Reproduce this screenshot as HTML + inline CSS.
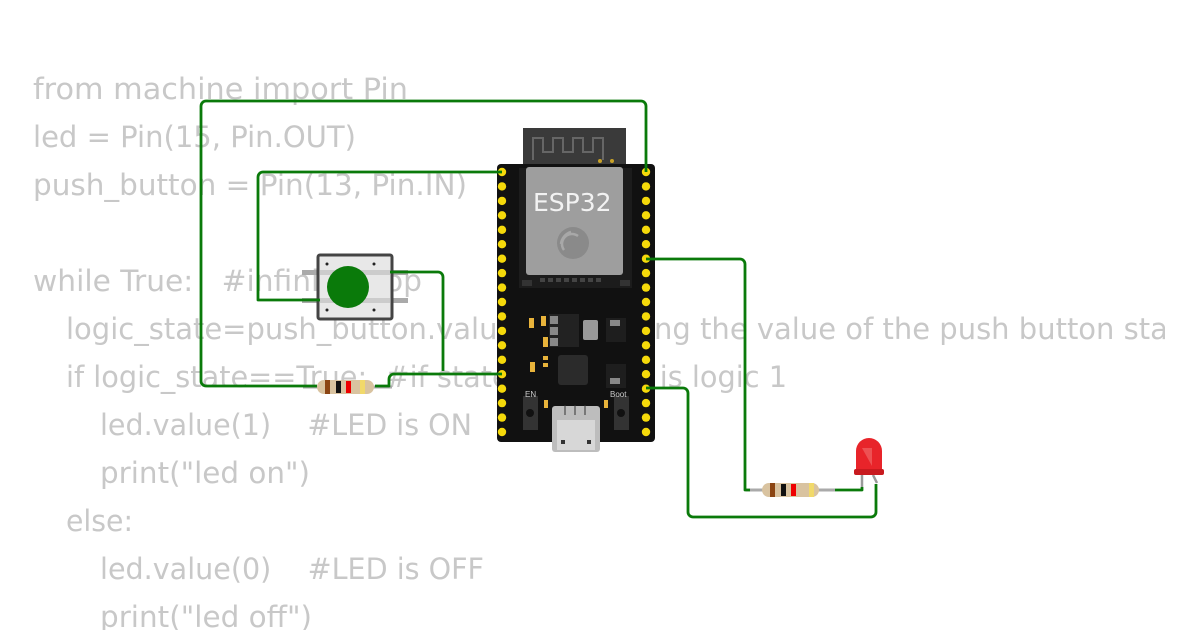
<!DOCTYPE html>
<html><head><meta charset="utf-8"><style>
html,body{margin:0;padding:0;background:#fff;width:1200px;height:630px;overflow:hidden}
svg{display:block}
.c{font-family:"DejaVu Sans","Liberation Sans",sans-serif;font-size:29px;fill:#c8c8c8}
</style></head><body>
<svg width="1200" height="630" viewBox="0 0 1200 630" xmlns="http://www.w3.org/2000/svg">
<defs><clipPath id="cl"><rect x="0" y="0" width="1165" height="630"/></clipPath></defs>
<g class="c" clip-path="url(#cl)">
<text x="33" y="99" textLength="375" lengthAdjust="spacingAndGlyphs">from machine import Pin</text>
<text x="33" y="147" textLength="323" lengthAdjust="spacingAndGlyphs">led = Pin(15, Pin.OUT)</text>
<text x="33" y="195" textLength="434" lengthAdjust="spacingAndGlyphs">push_button = Pin(13, Pin.IN)</text>
<text x="33" y="291" xml:space="preserve" textLength="389" lengthAdjust="spacingAndGlyphs">while True:   #infinite loop</text>
<text x="66" y="339" xml:space="preserve">logic_state=push_button.value()  #reading the value of the push button state</text>
<text x="66" y="387" xml:space="preserve" textLength="721" lengthAdjust="spacingAndGlyphs">if logic_state==True:  #if state of button is logic 1</text>
<text x="100" y="435" xml:space="preserve" textLength="372" lengthAdjust="spacingAndGlyphs">led.value(1)    #LED is ON</text>
<text x="100" y="483" textLength="210" lengthAdjust="spacingAndGlyphs">print("led on")</text>
<text x="66" y="531" textLength="67" lengthAdjust="spacingAndGlyphs">else:</text>
<text x="100" y="579" xml:space="preserve" textLength="384" lengthAdjust="spacingAndGlyphs">led.value(0)    #LED is OFF</text>
<text x="100" y="627" textLength="212" lengthAdjust="spacingAndGlyphs">print("led off")</text>
</g>

<!-- ESP32 board -->
<rect x="523" y="128" width="103" height="50" fill="#3a3a3a"/>
<path d="M533 160 v-22 h10 v14 h10 v-14 h10 v14 h10 v-14 h10 v14 h10 v-14 h10 v22" fill="none" stroke="#666" stroke-width="2"/>
<circle cx="600" cy="161" r="2" fill="#c9a227"/><circle cx="612" cy="161" r="2" fill="#c9a227"/>
<rect x="497" y="164" width="158" height="278" rx="4" fill="#111"/>
<rect x="519" y="168" width="113" height="120" fill="#1c1c1c"/>
<rect x="526" y="167" width="97" height="108" rx="3" fill="#9e9e9e"/>
<text x="533" y="211" font-family="DejaVu Sans,sans-serif" font-size="25" fill="#f2f2f2">ESP32</text>
<circle cx="573" cy="243" r="16" fill="#8a8a8a"/>
<path d="M564 250 a10 10 0 0 1 14 -14 M561 244 a14 14 0 0 1 10 -12" stroke="#a8a8a8" stroke-width="2.5" fill="none"/>
<g fill="#444"><rect x="540" y="278" width="5" height="4"/><rect x="548" y="278" width="5" height="4"/><rect x="556" y="278" width="5" height="4"/><rect x="564" y="278" width="5" height="4"/><rect x="572" y="278" width="5" height="4"/><rect x="580" y="278" width="5" height="4"/><rect x="588" y="278" width="5" height="4"/><rect x="596" y="278" width="5" height="4"/></g>
<rect x="522" y="280" width="10" height="6" fill="#333"/><rect x="620" y="280" width="10" height="6" fill="#333"/>
<rect x="549" y="314" width="30" height="33" fill="#222"/>
<rect x="550" y="316" width="8" height="8" fill="#888"/><rect x="550" y="327" width="8" height="8" fill="#888"/><rect x="550" y="338" width="8" height="8" fill="#888"/>
<rect x="583" y="320" width="15" height="20" rx="2" fill="#999"/>
<rect x="558" y="355" width="30" height="30" rx="3" fill="#2b2b2b"/>
<rect x="606" y="318" width="20" height="24" fill="#1e1e1e"/><rect x="610" y="320" width="10" height="6" fill="#888"/>
<rect x="606" y="364" width="20" height="24" fill="#1e1e1e"/><rect x="610" y="378" width="10" height="6" fill="#888"/>
<g fill="#e8b33b"><rect x="529" y="318" width="5" height="10"/><rect x="541" y="316" width="5" height="10"/><rect x="543" y="337" width="5" height="10"/><rect x="530" y="362" width="5" height="10"/><rect x="543" y="356" width="5" height="4"/><rect x="543" y="363" width="5" height="4"/><rect x="544" y="400" width="4" height="8"/><rect x="604" y="400" width="4" height="8"/></g>
<rect x="523" y="396" width="15" height="34" fill="#333"/><circle cx="530" cy="413" r="4" fill="#111"/>
<rect x="614" y="396" width="15" height="34" fill="#333"/><circle cx="621" cy="413" r="4" fill="#111"/>
<text x="525" y="397" font-family="Liberation Sans,sans-serif" font-size="8" fill="#ccc">EN</text>
<text x="610" y="397" font-family="Liberation Sans,sans-serif" font-size="8" fill="#ccc">Boot</text>
<rect x="552" y="406" width="48" height="46" rx="3" fill="#bdbdbd"/>
<rect x="557" y="420" width="38" height="30" fill="#d7d7d7"/>
<rect x="561" y="440" width="4" height="4" fill="#333"/><rect x="587" y="440" width="4" height="4" fill="#333"/>
<g fill="none" stroke="#333" stroke-width="1"><line x1="565" y1="415" x2="565" y2="405"/><line x1="575" y1="415" x2="575" y2="405"/><line x1="585" y1="415" x2="585" y2="405"/></g>

<g fill="#f5d90a">
<circle cx="502" cy="172" r="4.2"/><circle cx="502" cy="186.4" r="4.2"/><circle cx="502" cy="200.9" r="4.2"/><circle cx="502" cy="215.3" r="4.2"/><circle cx="502" cy="229.8" r="4.2"/><circle cx="502" cy="244.2" r="4.2"/><circle cx="502" cy="258.7" r="4.2"/><circle cx="502" cy="273.1" r="4.2"/><circle cx="502" cy="287.6" r="4.2"/><circle cx="502" cy="302" r="4.2"/><circle cx="502" cy="316.4" r="4.2"/><circle cx="502" cy="330.9" r="4.2"/><circle cx="502" cy="345.3" r="4.2"/><circle cx="502" cy="359.8" r="4.2"/><circle cx="502" cy="374.2" r="4.2"/><circle cx="502" cy="388.7" r="4.2"/><circle cx="502" cy="403.1" r="4.2"/><circle cx="502" cy="417.6" r="4.2"/><circle cx="502" cy="432" r="4.2"/>
<circle cx="646" cy="172" r="4.2"/><circle cx="646" cy="186.4" r="4.2"/><circle cx="646" cy="200.9" r="4.2"/><circle cx="646" cy="215.3" r="4.2"/><circle cx="646" cy="229.8" r="4.2"/><circle cx="646" cy="244.2" r="4.2"/><circle cx="646" cy="258.7" r="4.2"/><circle cx="646" cy="273.1" r="4.2"/><circle cx="646" cy="287.6" r="4.2"/><circle cx="646" cy="302" r="4.2"/><circle cx="646" cy="316.4" r="4.2"/><circle cx="646" cy="330.9" r="4.2"/><circle cx="646" cy="345.3" r="4.2"/><circle cx="646" cy="359.8" r="4.2"/><circle cx="646" cy="374.2" r="4.2"/><circle cx="646" cy="388.7" r="4.2"/><circle cx="646" cy="403.1" r="4.2"/><circle cx="646" cy="417.6" r="4.2"/><circle cx="646" cy="432" r="4.2"/>
</g>

<!-- push button -->
<rect x="302" y="270" width="18" height="5" fill="#aaa"/><rect x="302" y="298" width="18" height="5" fill="#aaa"/>
<rect x="390" y="270" width="18" height="5" fill="#aaa"/><rect x="390" y="298" width="18" height="5" fill="#aaa"/>
<rect x="318" y="255" width="74" height="64" rx="2" fill="#e8e8e8" stroke="#444" stroke-width="3"/>
<rect x="320" y="270" width="70" height="5" fill="#ccc"/><rect x="320" y="298" width="70" height="5" fill="#ccc"/>
<circle cx="348" cy="287" r="21" fill="#0a7a0a"/>
<g fill="#222"><circle cx="327" cy="264" r="1.5"/><circle cx="374" cy="264" r="1.5"/><circle cx="327" cy="310" r="1.5"/><circle cx="374" cy="310" r="1.5"/></g>

<!-- resistor 1 -->
<line x1="303" y1="387" x2="392" y2="387" stroke="#aaa" stroke-width="3"/>
<rect x="317" y="380" width="57" height="14" rx="7" fill="#d9c3a0"/>
<rect x="325" y="380" width="5" height="14" fill="#8b4513"/><rect x="336" y="381" width="5" height="12" fill="#111"/><rect x="346" y="381" width="5" height="12" fill="#e00"/><rect x="360" y="380" width="5" height="14" fill="#f1d96a"/>

<!-- resistor 2 -->
<line x1="746" y1="490" x2="835" y2="490" stroke="#aaa" stroke-width="3"/>
<rect x="762" y="483" width="57" height="14" rx="7" fill="#d9c3a0"/>
<rect x="770" y="483" width="5" height="14" fill="#8b4513"/><rect x="781" y="484" width="5" height="12" fill="#111"/><rect x="791" y="484" width="5" height="12" fill="#e00"/><rect x="809" y="483" width="5" height="14" fill="#f1d96a"/>

<!-- LED -->
<path d="M862 475 v12 M873 475 l4 8" stroke="#999" stroke-width="2.5" fill="none"/>
<path d="M856 475 v-24 a13 13 0 0 1 26 0 v24 z" fill="#e8242a"/>
<rect x="854" y="469" width="30" height="6" rx="2" fill="#c81a1f"/>
<path d="M862 448 h10 v18 z" fill="#f07070" opacity="0.6"/>

<!-- wires -->
<g fill="none" stroke="#0a7a0a" stroke-width="2.8" stroke-linejoin="round">
<path d="M317 386 H206 a5 5 0 0 1 -5 -5 V106 a5 5 0 0 1 5 -5 H641 a5 5 0 0 1 5 5 V172"/>
<path d="M502 172 H263 a5 5 0 0 0 -5 5 V300 H320"/>
<path d="M390 272 H438 a5 5 0 0 1 5 5 V371"/>
<path d="M375 386 H389 V379 a5 5 0 0 1 5 -5 H502"/>
<path d="M646 259 H740 a5 5 0 0 1 5 5 V490 H750"/>
<path d="M835 490 H862 V487"/>
<path d="M646 388 H683 a5 5 0 0 1 5 5 V512 a5 5 0 0 0 5 5 H871 a5 5 0 0 0 5 -5 V484"/>
</g>
</svg>
</body></html>
